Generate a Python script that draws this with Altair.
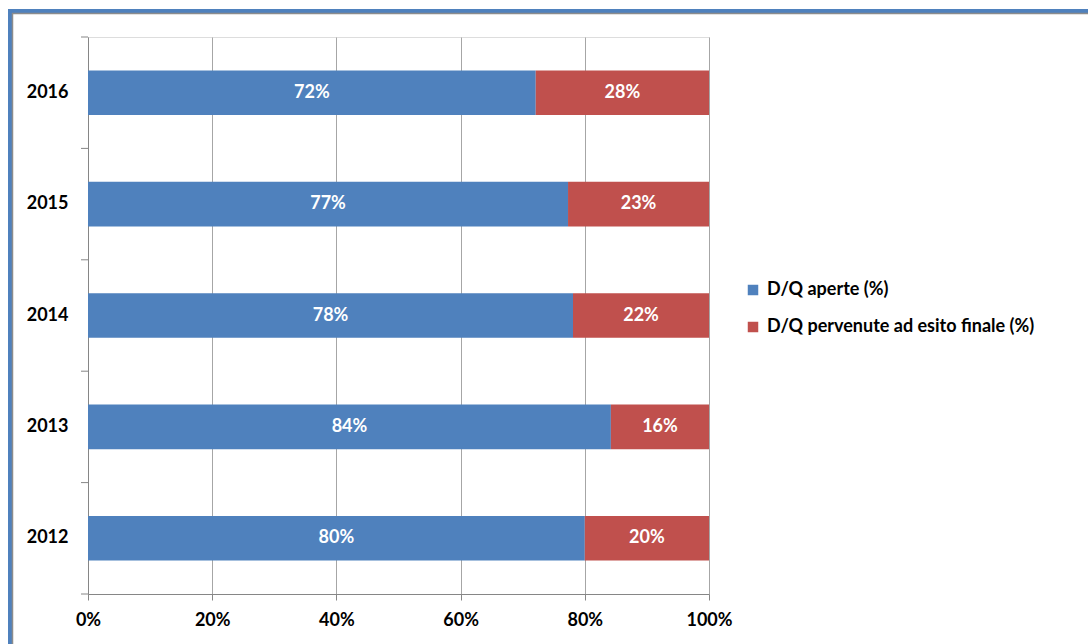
import altair as alt
import pandas as pd

years = ["2016", "2015", "2014", "2013", "2012"]
aperte = [72.1, 77.3, 78.1, 84.2, 80.0]
esito = [27.9, 22.7, 21.9, 15.8, 20.0]
series = ["D/Q aperte (%)", "D/Q pervenute ad esito finale (%)"]
colors = ["#4F81BD", "#C0504D"]
x_ticks = [0, 0.2, 0.4, 0.6, 0.8, 1.0]
band_edges = [0, 1, 2, 3, 4, 5]

rows = []
for i, y in enumerate(years):
    rows.append({"year": y, "serie": series[0], "order": 0, "value": aperte[i] / 100})
    rows.append({"year": y, "serie": series[1], "order": 1, "value": esito[i] / 100})
df = pd.DataFrame(rows)

FONT = "Lato"
FS = 18
W, H = 621, 557

y_enc = alt.Y("year:N", sort=years, title=None,
              scale=alt.Scale(paddingInner=0.6, paddingOuter=0.3),
              axis=alt.Axis(labelFont=FONT, labelFontSize=FS, labelFontWeight="bold",
                            labelColor="#000000", labelPadding=20, ticks=False,
                            domainColor="#868686", grid=False))

base = alt.Chart(df).transform_stack(
    stack="value", groupby=["year"], as_=["v0", "v1"],
    sort=[alt.SortField("order", order="ascending")]
).transform_calculate(mid="(datum.v0 + datum.v1) / 2")

bars = base.mark_bar().encode(
    x=alt.X("v0:Q", title=None, scale=alt.Scale(domain=[0, 1], nice=False),
            axis=alt.Axis(values=x_ticks, format=".0%", labelFont=FONT, labelFontSize=FS,
                          labelFontWeight="bold", labelColor="#000000", labelPadding=11,
                          tickSize=6, tickColor="#868686", domainColor="#868686",
                          grid=True, gridColor="#A6A6A6", labelFlush=False)),
    x2="v1:Q",
    y=y_enc,
    color=alt.Color("serie:N", scale=alt.Scale(domain=series, range=colors), title=None,
                    legend=alt.Legend(orient="none", legendX=656, legendY=244,
                                      symbolType="square", symbolSize=110,
                                      symbolStrokeWidth=0, labelFont=FONT,
                                      labelFontSize=FS, labelFontWeight="bold",
                                      labelColor="#000000", rowPadding=19, labelLimit=0,
                                      symbolOffset=0, labelOffset=5)),
)

texts = base.mark_text(font=FONT, fontSize=FS, fontWeight="bold", color="white").encode(
    x=alt.X("mid:Q"),
    y=alt.Y("year:N", sort=years, axis=None),
    text=alt.Text("value:Q", format=".0%"),
)

ticks = alt.Chart(pd.DataFrame({"edge": band_edges})).mark_rule(
    color="#868686", strokeWidth=1).encode(
    y=alt.Y("edge:Q", scale=alt.Scale(domain=[0, 5], nice=False), axis=None),
    x=alt.value(-7), x2=alt.value(0))

frame_df = pd.DataFrame({"k": [0]})
frame_left = alt.Chart(frame_df).mark_rule(color="#4F81BD", strokeWidth=4).encode(
    x=alt.value(-78), y=alt.value(-28), y2=alt.value(H + 60))
frame_top = alt.Chart(frame_df).mark_rule(color="#4F81BD", strokeWidth=4).encode(
    x=alt.value(-80), x2=alt.value(W + 400), y=alt.value(-26))
frame_left_in = alt.Chart(frame_df).mark_rule(color="#8C8C8C", strokeWidth=1.5).encode(
    x=alt.value(-75.5), y=alt.value(-24), y2=alt.value(H + 60))
frame_top_in = alt.Chart(frame_df).mark_rule(color="#8C8C8C", strokeWidth=1.5).encode(
    x=alt.value(-76), x2=alt.value(W + 400), y=alt.value(-23.5))

chart = alt.layer(bars, texts, ticks, frame_left, frame_top, frame_left_in, frame_top_in).resolve_scale(
    y="independent"
).properties(
    width=W, height=H,
    padding={"left": 88, "top": 37, "right": 1088 - 88 - W, "bottom": 644 - 37 - H},
    autosize=alt.AutoSizeParams(type="none"),
).configure_view(stroke=None).configure(background="white")

chart.save("out.html", embed_options={"renderer": "svg", "actions": False})
